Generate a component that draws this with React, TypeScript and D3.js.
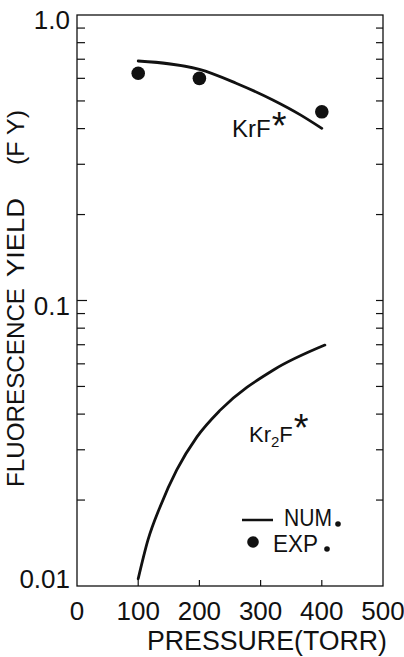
import React, { useEffect, useRef } from 'react';
import * as d3 from 'd3';

const pressureTicks = [0, 100, 200, 300, 400, 500];
const yieldTicks = [1, 0.1, 0.01];
const yieldTickLabels = ['1.0', '0.1', '0.01'];

// numerical curves
const krfNumPressure = [100, 200, 260, 320, 365, 400];
const krfNumYield = [0.69, 0.645, 0.577, 0.504, 0.447, 0.401];
const kr2fNumPressure = [100, 116, 136, 163, 196, 234, 321, 405];
const kr2fNumYield = [0.0106, 0.0145, 0.019, 0.0255, 0.0333, 0.0413, 0.0571, 0.0698];

// experimental points
const krfExpPressure = [100, 200, 400];
const krfExpYield = [0.625, 0.6, 0.458];

const App = () => {
  const ref = useRef<SVGSVGElement>(null);

  useEffect(() => {
    const svg = d3.select(ref.current);
    svg.selectAll('*').remove();
    const margin = { top: 15, right: 21, bottom: 71, left: 77 };
    const width = 404 - margin.left - margin.right;
    const height = 657 - margin.top - margin.bottom;
    const font = "'Liberation Sans', Arial, sans-serif";
    const ink = '#111';

    const g = svg.append('g').attr('transform', `translate(${margin.left},${margin.top})`);

    const x = d3.scaleLinear().domain([0, 500]).range([0, width]);
    const y = d3.scaleLog().domain([0.01, 1]).range([height, 0]);

    // frame
    g.append('rect')
      .attr('width', width)
      .attr('height', height)
      .attr('fill', 'none')
      .attr('stroke', ink)
      .attr('stroke-width', 1.3);

    // inward ticks, left and right
    const yTicks = y.ticks().filter((v) => v > 0.0101 && v < 0.99);
    const isMajor = (v: number) => Math.abs(Math.log10(v) - Math.round(Math.log10(v))) < 1e-6;
    g.selectAll('.tick-l')
      .data(yTicks)
      .enter().append('line')
      .attr('x1', 0)
      .attr('x2', (d) => (isMajor(d) ? 10 : 8))
      .attr('y1', (d) => y(d))
      .attr('y2', (d) => y(d))
      .attr('stroke', ink)
      .attr('stroke-width', 1.2);
    g.selectAll('.tick-r')
      .data(yTicks)
      .enter().append('line')
      .attr('x1', width)
      .attr('x2', width - 7)
      .attr('y1', (d) => y(d))
      .attr('y2', (d) => y(d))
      .attr('stroke', ink)
      .attr('stroke-width', 1.2);
    g.selectAll('.tick-b')
      .data(pressureTicks.slice(1, -1))
      .enter().append('line')
      .attr('x1', (d) => x(d))
      .attr('x2', (d) => x(d))
      .attr('y1', height)
      .attr('y2', height - 6)
      .attr('stroke', ink)
      .attr('stroke-width', 1.2);

    // tick labels
    g.selectAll('.xlabel')
      .data(pressureTicks)
      .enter().append('text')
      .attr('x', (d) => x(d))
      .attr('y', height + 34)
      .attr('text-anchor', 'middle')
      .attr('font-family', font)
      .attr('font-size', 26)
      .attr('fill', ink)
      .text((d) => d);

    g.selectAll('.ylabel')
      .data(yieldTicks)
      .enter().append('text')
      .attr('x', -7)
      .attr('y', (d) => Math.min(y(d) + 14, height + 2))
      .attr('text-anchor', 'end')
      .attr('font-family', font)
      .attr('font-size', 26)
      .attr('fill', ink)
      .text((d, i) => yieldTickLabels[i]);

    // axis titles
    g.append('text')
      .attr('x', 70)
      .attr('y', height + 64)
      .attr('font-family', font)
      .attr('font-size', 27)
      .attr('fill', ink)
      .attr('textLength', 240)
      .attr('lengthAdjust', 'spacingAndGlyphs')
      .text('PRESSURE(TORR)');

    const yTitle = [
      { text: 'FLUORESCENCE', start: 487, len: 199 },
      { text: 'YIELD', start: 277, len: 79 },
      { text: '(F Y)', start: 165, len: 55 },
    ];
    svg.selectAll('.ytitle')
      .data(yTitle)
      .enter().append('text')
      .attr('transform', (d) => `translate(24,${d.start}) rotate(-90)`)
      .attr('font-family', font)
      .attr('font-size', 24)
      .attr('fill', ink)
      .attr('textLength', (d) => d.len)
      .attr('lengthAdjust', 'spacingAndGlyphs')
      .text((d) => d.text);

    // curves
    const line = d3.line<[number, number]>()
      .curve(d3.curveMonotoneX)
      .x((d) => x(d[0]))
      .y((d) => y(d[1]));

    const series = [
      krfNumPressure.map((p, i) => [p, krfNumYield[i]] as [number, number]),
      kr2fNumPressure.map((p, i) => [p, kr2fNumYield[i]] as [number, number]),
    ];
    g.selectAll('.serie')
      .data(series)
      .enter().append('path')
      .attr('d', line)
      .attr('fill', 'none')
      .attr('stroke', ink)
      .attr('stroke-width', 2.8)
      .attr('stroke-linecap', 'round');

    g.selectAll('.dot')
      .data(krfExpPressure)
      .enter().append('circle')
      .attr('cx', (d) => x(d))
      .attr('cy', (d, i) => y(krfExpYield[i]))
      .attr('r', 6.8)
      .attr('fill', ink);

    // curve labels, one text each with tspans
    const label = svg.append('g')
      .attr('font-family', font)
      .attr('fill', ink);
    const krf = label.append('text')
      .attr('x', 232).attr('y', 137)
      .attr('font-size', 24);
    krf.append('tspan').text('KrF');
    krf.append('tspan').attr('font-size', 38).attr('dy', 2).attr('dx', 1).text('*');

    const kr2f = label.append('text')
      .attr('x', 249).attr('y', 442)
      .attr('font-size', 22);
    kr2f.append('tspan').text('Kr');
    kr2f.append('tspan').attr('font-size', 15).attr('dy', 5).text('2');
    kr2f.append('tspan').attr('dy', -5).text('F');
    kr2f.append('tspan').attr('font-size', 38).attr('dy', -1).attr('dx', 1).text('*');

    // legend
    const legend = svg.append('g')
      .attr('font-family', font)
      .attr('fill', ink);
    legend.append('line')
      .attr('x1', 242).attr('x2', 273)
      .attr('y1', 520).attr('y2', 520)
      .attr('stroke', ink)
      .attr('stroke-width', 2.5);
    legend.append('text')
      .attr('x', 284).attr('y', 526)
      .attr('font-size', 23)
      .attr('textLength', 48)
      .attr('lengthAdjust', 'spacingAndGlyphs')
      .text('NUM');
    legend.append('circle').attr('cx', 338).attr('cy', 524).attr('r', 2.8);
    legend.append('circle').attr('cx', 253).attr('cy', 542).attr('r', 5.8);
    legend.append('text')
      .attr('x', 273).attr('y', 552)
      .attr('font-size', 23)
      .attr('textLength', 45)
      .attr('lengthAdjust', 'spacingAndGlyphs')
      .text('EXP');
    legend.append('circle').attr('cx', 327).attr('cy', 549).attr('r', 2.8);
  }, []);

  return (
    <svg
      ref={ref}
      width={404}
      height={657}
      style={{ position: 'absolute', left: 0, top: 0, background: '#fff' }}
    />
  );
};

export default App;
